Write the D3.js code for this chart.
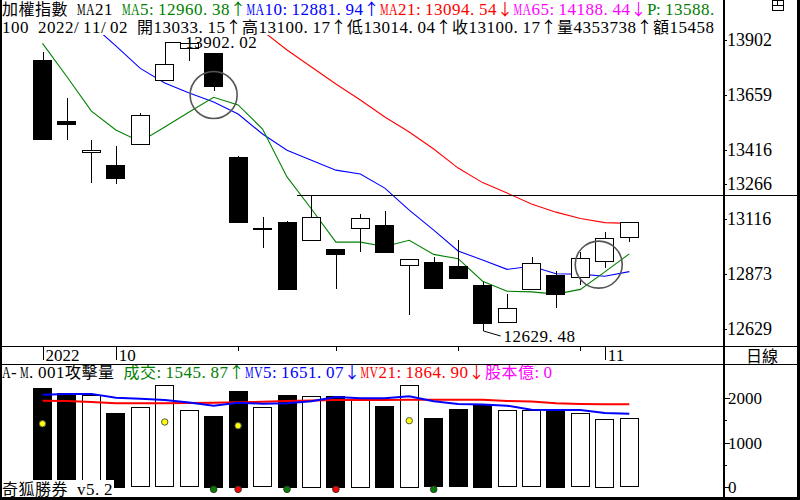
<!DOCTYPE html>
<html>
<head>
<meta charset="utf-8">
<script src="https://cdn.jsdelivr.net/npm/d3@7"></script>
<style>
  body { margin: 0; background: #fff; }
  svg { display: block; }
</style>
</head>
<body>
<svg id="chart" width="800" height="500"></svg>
<script>
// daily candles, TAIEX
var dates = ["2022/09/28","2022/09/29","2022/09/30","2022/10/03","2022/10/04","2022/10/05","2022/10/06","2022/10/07",
  "2022/10/11","2022/10/12","2022/10/13","2022/10/14","2022/10/17","2022/10/18","2022/10/19","2022/10/20","2022/10/21",
  "2022/10/24","2022/10/25","2022/10/26","2022/10/27","2022/10/28","2022/10/31","2022/11/01","2022/11/02"];
var openP  = [13814,13545,13407,13351,13442,13726,13865,13843,13387,13071,13099,13020,12981,13072,13087,12909,12924,12905,12823,12657,12804,12867,12857,12925,13033.15];
var highP  = [13849,13645,13461,13435,13580,13795,13902.02,13845,13390,13121,13103,13218,12983,13135,13149,12938,12945,13021,12835,12782,12945,12884,12969,13055,13100.17];
var lowP   = [13462,13461,13271,13268,13440,13724,13809,13679,13100,12987,12802,13018,12806,12969,12967,12691,12806,12848,12629.48,12655,12802,12720,12823,12899,13014.04];
var closeP = [13465,13531,13417,13295,13570,13795,13887,13696,13102,13073,12804,13121,12961,13117,12969,12936,12811,12850,12657,12720,12918,12782,12940,13028,13100.17];

var ma5  = [13887,13740,13589,13506,13454,13519,13585,13650,13616,13510,13299,13158,13012,13012,12993,13020,12958,12939,12840,12796,12793,12783,12804,12881,12960.38];
var ma10 = [null,null,13972,13876,13777,13713,13669,13629,13576,13488,13417,13373,13329,13312,13250,13153,13065,12973,12933,12892,12906,12873,12871,12862,12881.94];
var ma21 = [null,null,null,null,null,null,null,null,null,13942,13858,13783,13708,13638,13563,13497,13422,13338,13274,13228,13180,13144,13116,13098,13094.54];

var volume = [2233,2120,2075,1667,1796,2294,1729,1600,2165,1796,2075,2052,2052,1961,1826,2308,1548,1751,1848,1729,1729,1735,1661,1530,1545.87];
var mv5  = [2080,2100,2100,2010,1990,1960,1905,1833,1900,1878,1890,1932,2029,2000,2000,2045,1932,1871,1860,1833,1740,1735,1735,1670,1651.07];
var mv21 = [1946,1940,1916,1890,1887,1887,1892,1900,1910,1920,1940,1950,1961,1961,1961,1968,1968,1968,1966,1940,1925,1890,1872,1866,1864.90];

var priceTicks = [13902,13659,13416,13266,13116,12873,12629];
var volTicks = [0,1000,2000];
var volMinorTicks = [500,1500];

// yellow signal dots on volume panel, and buy/sell dots under the bars
var signalIdx = [0,5,8,15];
var signalVal = [1425,1464,1380,1493];
var buyIdx = [7,10,16];
var sellIdx = [8,12];
// circles where MA5 crosses MA10
var crossIdx = [7,22.75];
var crossVal = [13660,12913];

var LAT = "'Liberation Serif', serif";
var CJK = "'Noto Sans CJK TC', 'Noto Sans CJK JP', sans-serif";

var svg = d3.select("#chart");
svg.append("rect").attr("width",800).attr("height",500).attr("fill","#fff");

var x = d3.scaleLinear().domain([0, dates.length-1]).range([42.5, 629.3]);
var y = d3.scaleLinear().domain([12629.48, 13902.02]).range([329, 40]);
var yv = d3.scaleLinear().domain([0, 2000]).range([486.7, 398.3]);

var px = function(v){ return Math.round(v) + 0.5; };

// text laid on a fixed cell grid like the terminal font
var gridText = function(g, x0, yb, segs, size) {
    var cx = x0;
    segs.forEach(function(s){
        var t = g.append("text").attr("y", yb).attr("fill", s.c);
        Array.from(s.t).forEach(function(ch){
            var wide = ch.charCodeAt(0) > 0x2000;
            var sp = t.append("tspan")
                .attr("x", cx)
                .attr("font-family", wide ? CJK : LAT)
                .attr("font-size", wide ? (size-1) : size)
                .text(ch);
            if ("MAVWmw".indexOf(ch) >= 0) {
                sp.attr("textLength", 8.6).attr("lengthAdjust","spacingAndGlyphs");
            }
            cx += wide ? 16.5 : 9;
        });
    });
};

svg.append("clipPath").attr("id","mainClip")
    .append("rect").attr("x",1).attr("y",35).attr("width",722).attr("height",311);

var main = svg.append("g").attr("clip-path","url(#mainClip)");

// MA lines
var maLine = d3.line().defined(function(d){ return d != null; })
    .x(function(d,i){ return x(i); }).y(function(d){ return y(d); });
[[ma21,"#ff0000"],[ma10,"#0000ff"],[ma5,"#008000"]].forEach(function(m){
    main.append("path").datum(m[0]).attr("d", maLine)
        .attr("fill","none").attr("stroke", m[1]).attr("stroke-width",1.1);
});

// candles
var idx = d3.range(dates.length);
main.selectAll(".wick").data(idx).enter().append("line")
    .attr("x1", function(i){ return px(x(i)); }).attr("x2", function(i){ return px(x(i)); })
    .attr("y1", function(i){ return y(highP[i]); }).attr("y2", function(i){ return y(lowP[i]); })
    .attr("stroke","#000").attr("stroke-width",1).attr("shape-rendering","crispEdges");

main.selectAll(".body").data(idx).enter().append("rect")
    .attr("x", function(i){ return px(x(i) - 9.5); })
    .attr("width", 18)
    .attr("y", function(i){ return px(y(Math.max(openP[i], closeP[i]))); })
    .attr("height", function(i){ return Math.max(1, Math.round(Math.abs(y(openP[i]) - y(closeP[i])))); })
    .attr("fill", function(i){ return closeP[i] >= openP[i] ? "#fff" : "#000"; })
    .attr("stroke","#000").attr("stroke-width",1).attr("shape-rendering","crispEdges");

// cross circles
main.selectAll(".cross").data(crossIdx).enter().append("circle")
    .attr("cx", function(d){ return x(d); })
    .attr("cy", function(d,i){ return y(crossVal[i]); })
    .attr("r", 23.5)
    .attr("fill","none").attr("stroke","#555").attr("stroke-width",1.6);

// high / low annotations
var hiI = highP.indexOf(d3.max(highP));
var loI = lowP.indexOf(d3.min(lowP));
var hiY = y(highP[hiI]) + 2;
main.append("path")
    .attr("d", "M" + px(x(hiI-1)) + "," + y(closeP[hiI-1]) + "V" + px(hiY) + "H" + (x(hiI) - 8))
    .attr("fill","none").attr("stroke","#000").attr("shape-rendering","crispEdges");
gridText(svg, x(hiI) - 4, y(highP[hiI]) + 8, [{t: highP[hiI].toFixed(2), c:"#000"}], 17);

var loY = y(lowP[loI]);
main.append("path")
    .attr("d", "M" + px(x(loI)) + "," + loY + "V" + (loY + 2) + "L" + (x(loI) + 18) + "," + (loY + 7))
    .attr("fill","none").attr("stroke","#000");
gridText(svg, x(loI) + 21, loY + 13, [{t: lowP[loI].toFixed(2), c:"#000"}], 17);

// line at the high of the rebound candle, out to the edge
var refI = 11;
svg.append("line")
    .attr("x1", x(refI) - 14).attr("x2", 800)
    .attr("y1", px(y(highP[refI]))).attr("y2", px(y(highP[refI])))
    .attr("stroke","#000").attr("shape-rendering","crispEdges");

// header
var last = dates.length - 1;
gridText(svg, 2, 15, [
    {t:"加權指數 MA21 ", c:"#000"},
    {t:"MA5:" + ma5[last].toFixed(2) + "↑", c:"#008000"},
    {t:"MA10:" + ma10[last].toFixed(2) + "↑", c:"#0000ff"},
    {t:"MA21:" + ma21[last].toFixed(2) + "↓", c:"#ff0000"},
    {t:"MA65:14188.44↓", c:"#ff00ff"},
    {t:"P:13588.", c:"#008000"}
], 17);
gridText(svg, 2, 33, [
    {t:"100 " + dates[last] + " 開" + openP[last].toFixed(2) + "↑高" + highP[last].toFixed(2) +
       "↑低" + lowP[last].toFixed(2) + "↑收" + closeP[last].toFixed(2) + "↑量4353738↑額15458", c:"#000"}
], 17);

// price axis
var axisG = svg.append("g");
priceTicks.forEach(function(v){
    axisG.append("line").attr("x1",723).attr("x2",727).attr("y1",px(y(v))).attr("y2",px(y(v)))
        .attr("stroke","#000").attr("shape-rendering","crispEdges");
    axisG.append("text").attr("x",727).attr("y",y(v)+6)
        .attr("font-family",LAT).attr("font-size",18).text(v);
});

// date strip
var dateG = svg.append("g");
var prev = null;
dates.forEach(function(d,i){
    var dt = new Date(d);
    var label = null, tall = false, isTick = false;
    if (i === 0) { label = dt.getFullYear(); tall = true; isTick = true; }
    else if (dt.getMonth() !== prev.getMonth()) { label = dt.getMonth() + 1; tall = true; isTick = true; }
    else if (dt.getDay() < prev.getDay()) { isTick = true; }
    if (isTick) {
        dateG.append("line").attr("x1",px(x(i))).attr("x2",px(x(i)))
            .attr("y1",346).attr("y2", tall ? 360 : 351)
            .attr("stroke","#000").attr("shape-rendering","crispEdges");
    }
    if (label !== null) {
        dateG.append("text").attr("x", x(i) + 3).attr("y", 361)
            .attr("font-family",LAT).attr("font-size",17).text(label);
    }
    prev = dt;
});
svg.append("text").attr("x",762).attr("y",362).attr("text-anchor","middle")
    .attr("font-family",CJK).attr("font-size",16).text("日線");

// volume panel
var volG = svg.append("g");
volG.selectAll(".vbar").data(idx).enter().append("rect")
    .attr("x", function(i){ return px(x(i) - 9.5); })
    .attr("width", 18)
    .attr("y", function(i){ return px(yv(volume[i])); })
    .attr("height", function(i){ return Math.round(yv(0) - yv(volume[i])); })
    .attr("fill", function(i){ return closeP[i] >= openP[i] ? "#fff" : "#000"; })
    .attr("stroke","#000").attr("shape-rendering","crispEdges");

var mvLine = d3.line().x(function(d,i){ return x(i); }).y(function(d){ return yv(d); });
volG.append("path").datum(mv21).attr("d", mvLine).attr("fill","none").attr("stroke","#ff0000").attr("stroke-width",2);
volG.append("path").datum(mv5).attr("d", mvLine).attr("fill","none").attr("stroke","#0000ff").attr("stroke-width",2);

volG.selectAll(".sig").data(signalIdx).enter().append("circle")
    .attr("cx", function(d){ return x(d); })
    .attr("cy", function(d,i){ return yv(signalVal[i]); })
    .attr("r", 3.2).attr("fill","#ffff00").attr("stroke","#555");
volG.selectAll(".buy").data(buyIdx).enter().append("circle")
    .attr("cx", function(d){ return x(d); }).attr("cy", yv(-60))
    .attr("r", 3.3).attr("fill","#008000").attr("stroke","#333");
volG.selectAll(".sell").data(sellIdx).enter().append("circle")
    .attr("cx", function(d){ return x(d); }).attr("cy", yv(-60))
    .attr("r", 3.3).attr("fill","#ff0000").attr("stroke","#333");

gridText(svg, 2, 378, [
    {t:"A-M.001攻擊量 ", c:"#000"},
    {t:"成交:" + volume[last].toFixed(2) + "↑", c:"#008000"},
    {t:"MV5:" + mv5[last].toFixed(2) + "↓", c:"#0000ff"},
    {t:"MV21:" + mv21[last].toFixed(2) + "↓", c:"#ff0000"},
    {t:"股本億:0", c:"#ff00ff"}
], 17);

volTicks.forEach(function(v){
    svg.append("line").attr("x1",723).attr("x2",730).attr("y1",px(yv(v))).attr("y2",px(yv(v)))
        .attr("stroke","#000").attr("shape-rendering","crispEdges");
    svg.append("text").attr("x",728).attr("y",yv(v)+6)
        .attr("font-family",LAT).attr("font-size",17).text(v);
});
volMinorTicks.forEach(function(v){
    svg.append("line").attr("x1",723).attr("x2",727).attr("y1",px(yv(v))).attr("y2",px(yv(v)))
        .attr("stroke","#000").attr("shape-rendering","crispEdges");
});

// footer tag
svg.append("rect").attr("x",0).attr("y",480).attr("width",114).attr("height",17).attr("fill","#fff");
gridText(svg, 2, 495, [{t:"奇狐勝券 v5.2", c:"#000"}], 17);

// frame lines
var frame = svg.append("g").attr("stroke","#000").attr("shape-rendering","crispEdges");
frame.append("line").attr("x1",0).attr("x2",800).attr("y1",346.5).attr("y2",346.5);
frame.append("line").attr("x1",0).attr("x2",800).attr("y1",364.5).attr("y2",364.5).attr("stroke-width",1.5);
frame.append("line").attr("x1",723.5).attr("x2",723.5).attr("y1",0).attr("y2",500).attr("stroke-width",2);
frame.append("line").attr("x1",0.5).attr("x2",0.5).attr("y1",0).attr("y2",500).attr("stroke-width",2);
frame.append("line").attr("x1",798.5).attr("x2",798.5).attr("y1",0).attr("y2",500).attr("stroke-width",3);
frame.append("line").attr("x1",0).attr("x2",800).attr("y1",498.5).attr("y2",498.5).attr("stroke-width",3);
// small window icon top right
frame.append("rect").attr("x",772.5).attr("y",0.5).attr("width",11).attr("height",10).attr("fill","none");
frame.append("line").attr("x1",772.5).attr("x2",783.5).attr("y1",5.5).attr("y2",5.5);
frame.append("line").attr("x1",777.5).attr("x2",777.5).attr("y1",0.5).attr("y2",5.5);
</script>
</body>
</html>
